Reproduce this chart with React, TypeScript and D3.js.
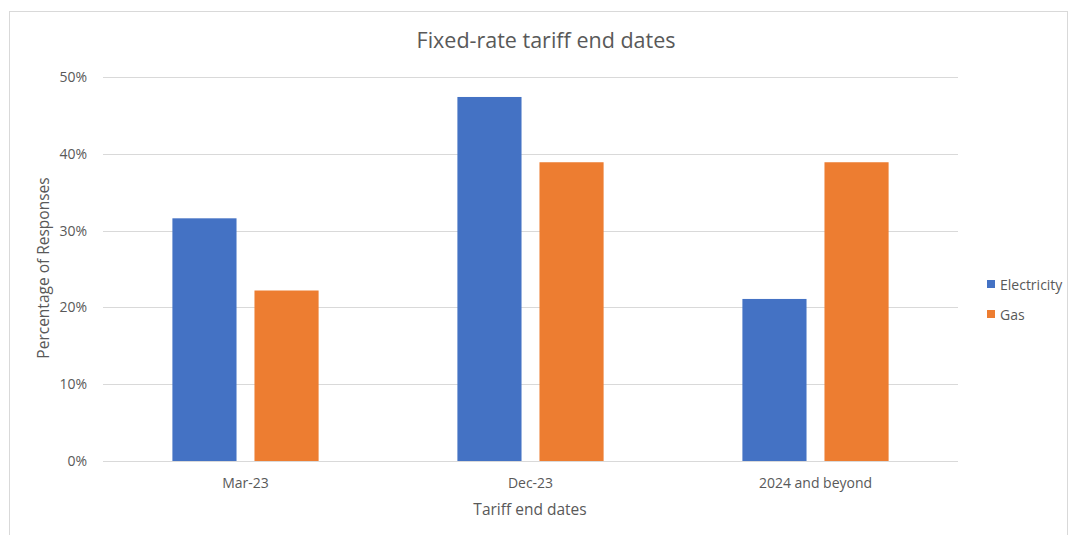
import * as d3 from "d3";

const categories = ["Mar-23", "Dec-23", "2024 and beyond"];
const electricity = [0.316, 0.474, 0.211];
const gas = [0.222, 0.389, 0.389];
const yTicks = [0, 0.1, 0.2, 0.3, 0.4, 0.5];

const seriesNames = ["Electricity", "Gas"];
const seriesColors = ["#4472c4", "#ed7d31"];

const width = 1069;
const height = 535;
const plot = { left: 103, right: 958, top: 77, bottom: 461 };
const font = "'Open Sans', 'Noto Sans', sans-serif";
const textColor = "#595959";

export default function App() {
  const x = d3
    .scaleBand<string>()
    .domain(categories)
    .range([plot.left, plot.right])
    .paddingInner(0)
    .paddingOuter(0);

  const y = d3.scaleLinear().domain([0, 0.5]).range([plot.bottom, plot.top]);

  const barW = x.bandwidth() * 0.225;
  const gap = x.bandwidth() * 0.063;
  const series = [electricity, gas];

  return (
    <div style={{ position: "absolute", left: 0, top: 0 }}>
      <svg width={width} height={height} style={{ display: "block", fontFamily: font }}>
        <rect x={0} y={0} width={width} height={height} fill="#fff" />
        {/* chart border */}
        <rect x={9.5} y={11.5} width={1058} height={540} fill="none" stroke="#d9d9d9" />

        <text x={546} y={48} textAnchor="middle" fontSize={21.5} fill={textColor}>
          Fixed-rate tariff end dates
        </text>

        {/* gridlines + y ticks */}
        {yTicks.map((t) => (
          <g key={t}>
            <line
              x1={plot.left}
              x2={plot.right}
              y1={Math.round(y(t)) + 0.5}
              y2={Math.round(y(t)) + 0.5}
              stroke="#d9d9d9"
              strokeWidth={1}
            />
            <text x={87} y={y(t) + 5} textAnchor="end" fontSize={14} fill={textColor}>
              {d3.format(".0%")(t)}
            </text>
          </g>
        ))}

        {/* bars */}
        {categories.map((c, i) => {
          const cx = (x(c) ?? 0) + x.bandwidth() / 2;
          return series.map((s, k) => {
            const bx = k === 0 ? cx - gap / 2 - barW : cx + gap / 2;
            return (
              <rect
                key={`${c}-${k}`}
                x={bx}
                y={y(s[i])}
                width={barW}
                height={y(0) - y(s[i])}
                fill={seriesColors[k]}
              />
            );
          });
        })}

        {/* x labels */}
        {categories.map((c) => (
          <text
            key={c}
            x={(x(c) ?? 0) + x.bandwidth() / 2}
            y={488}
            textAnchor="middle"
            fontSize={14}
            fill={textColor}
          >
            {c}
          </text>
        ))}

        <text x={530} y={515} textAnchor="middle" fontSize={15.5} fill={textColor}>
          Tariff end dates
        </text>
        <text
          transform={`translate(49, 268) rotate(-90)`}
          textAnchor="middle"
          fontSize={15.5}
          fill={textColor}
        >
          Percentage of Responses
        </text>

        {/* legend */}
        {seriesNames.map((n, k) => (
          <g key={n} transform={`translate(987, ${280 + k * 30})`}>
            <rect x={0} y={0} width={8} height={8} fill={seriesColors[k]} />
            <text x={13} y={9.5} fontSize={14} fill={textColor}>
              {n}
            </text>
          </g>
        ))}
      </svg>
    </div>
  );
}
